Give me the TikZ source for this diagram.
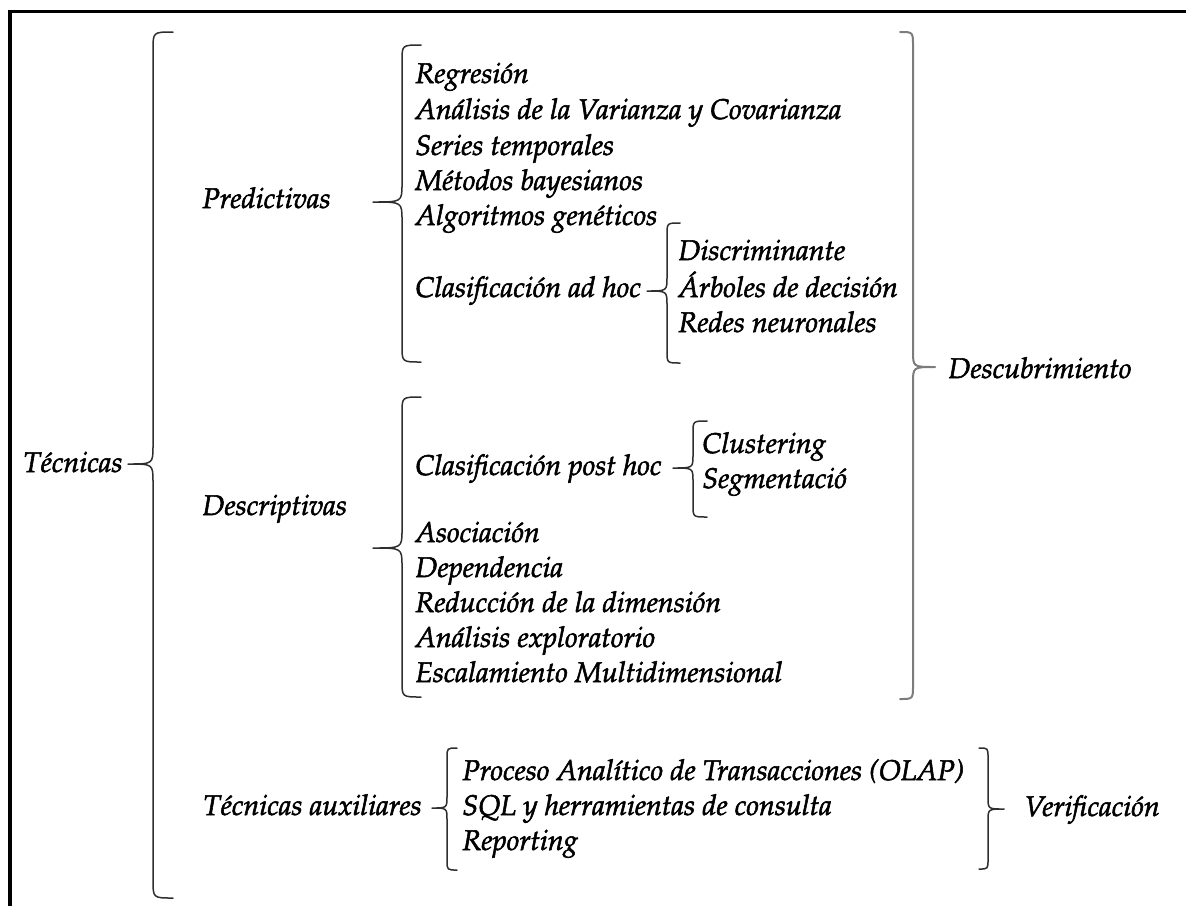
\documentclass[tikz,border=0pt]{standalone}
\usepackage[T1]{fontenc}
\IfFileExists{tgpagella.sty}{\usepackage{tgpagella}}{\usepackage{mathpazo}}
\definecolor{bracegray}{HTML}{2E2E2E}
\definecolor{lightbrace}{HTML}{7C7C7C}
% slightly heavier glyphs: fill and stroke the outlines
\newcommand{\heavytext}[1]{\special{pdf:literal direct 2 Tr 0.28 w}#1\special{pdf:literal direct 0 Tr}}
\tikzset{
  lbl/.style={anchor=base west, inner sep=0pt, font=\fontsize{14.25}{17}\selectfont\itshape},
  curly/.style={draw=bracegray, line width=0.75pt, line cap=round, line join=round},
  frameline/.style={draw=black, line width=1.75pt}
}
% curly brace: name, end x, line x, tip x, top y, bottom y, tip y, hook length, tip length
\newcommand{\curlybrace}[9]{%
  \coordinate (#1-top) at (#2,#5);
  \coordinate (#1-bot) at (#2,#6);
  \coordinate (#1-tip) at (#4,#7);
  \draw[curly] (#1-top) .. controls (#3,#5) .. (#3,#5+#8)
    -- (#3,#7-#9) .. controls (#3,#7) .. (#1-tip)
    .. controls (#3,#7) .. (#3,#7+#9)
    -- (#3,#6-#8) .. controls (#3,#6) .. (#1-bot);
}
\begin{document}
\begin{tikzpicture}[x=0.5pt, y=-0.5pt]
\useasboundingbox (0,0) rectangle (1186,906);

% frame
\coordinate (fTR) at (1186,11.5);
\coordinate (fTL) at (10,11.5);
\coordinate (fBL) at (10,906);
\draw[frameline] (fTR) -- (fTL) -- (fBL);

% first level
\node[lbl] (tecnicas) at (23,472) {\heavytext{Técnicas}};
\curlybrace{bTec}{173}{153}{128}{32}{898}{464}{18}{18}

\node[lbl] (pred) at (202,208) {\heavytext{Predictivas}};
\node[lbl] (desc) at (202,515) {\heavytext{Descriptivas}};
\node[lbl] (aux) at (203,815) {\heavytext{Técnicas auxiliares}};

% predictive techniques
\curlybrace{bPred}{421}{402}{373}{45}{362}{202}{16}{18}
\node[lbl] (p1) at (415,83) {\heavytext{Regresión}};
\node[lbl] (p2) at (415,119) {\heavytext{Análisis de la Varianza y Covarianza}};
\node[lbl] (p3) at (415,155) {\heavytext{Series temporales}};
\node[lbl] (p4) at (415,190) {\heavytext{Métodos bayesianos}};
\node[lbl] (p5) at (415,225) {\heavytext{Algoritmos genéticos}};
\node[lbl] (p6) at (415,297) {\heavytext{Clasificación ad hoc}};

\curlybrace{bAdhoc}{680}{667}{647}{223}{363}{291}{12}{14}
\node[lbl] (a1) at (678,260) {\heavytext{Discriminante}};
\node[lbl] (a2) at (678,297) {\heavytext{Árboles de decisión}};
\node[lbl] (a3) at (678,332) {\heavytext{Redes neuronales}};

% descriptive techniques
\curlybrace{bDesc}{421}{402}{373}{397}{697}{548}{16}{18}
\node[lbl] (d1) at (415,475) {\heavytext{Clasificación post hoc}};
\node[lbl] (d2) at (415,542) {\heavytext{Asociación}};
\node[lbl] (d3) at (415,577) {\heavytext{Dependencia}};
\node[lbl] (d4) at (415,612) {\heavytext{Reducción de la dimensión}};
\node[lbl] (d5) at (415,647) {\heavytext{Análisis exploratorio}};
\node[lbl] (d6) at (415,682) {\heavytext{Escalamiento Multidimensional}};

\curlybrace{bPost}{707}{693}{673}{421}{517}{468}{12}{13}
\node[lbl] (c1) at (702,453) {\heavytext{Clustering}};
\node[lbl] (c2) at (702,488) {\heavytext{Segmentació}};

% auxiliary techniques
\curlybrace{bAux}{457}{447}{432}{748}{870}{808}{10}{12}
\node[lbl] (x1) at (462,780) {\heavytext{Proceso Analítico de Transacciones (OLAP)}};
\node[lbl] (x2) at (462,815) {\heavytext{SQL y herramientas de consulta}};
\node[lbl] (x3) at (462,850) {\heavytext{Reporting}};

% right-hand groupings
\begin{scope}[curly/.append style={draw=lightbrace, line width=1pt}]
\curlybrace{bDisc}{900}{913}{935}{32}{699}{367}{14}{16}
\end{scope}
\node[lbl] (descub) at (948,378) {\heavytext{Descubrimiento}};

\curlybrace{bVer}{979}{988}{1004}{748}{869}{809}{10}{12}
\node[lbl] (verif) at (1024,816) {\heavytext{Verificación}};
\end{tikzpicture}
\end{document}
